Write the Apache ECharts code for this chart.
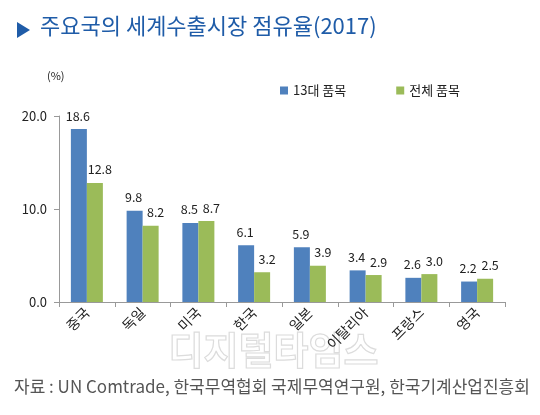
<!DOCTYPE html>
<html><head><meta charset="utf-8">
<script src="https://cdn.jsdelivr.net/npm/echarts@6/dist/echarts.min.js"></script>
<style>html,body{margin:0;padding:0;background:#fff}#c{width:540px;height:415px}</style>
</head><body><div id="c"></div>
<script>
const categories = ['중국','독일','미국','한국','일본','이탈리아','프랑스','영국'];
const items13 = [18.6, 9.8, 8.5, 6.1, 5.9, 3.4, 2.6, 2.2];
const itemsAll = [12.8, 8.2, 8.7, 3.2, 3.9, 2.9, 3.0, 2.5];
const seriesNames = ['13대 품목', '전체 품목'];
const yTicks = [0, 10, 20];
const F = '"Noto Sans CJK KR", "Noto Sans", sans-serif';

const chart = echarts.init(document.getElementById('c'), null, {renderer: 'canvas'});
const lbl = (dx) => ({show: true, position: 'top', distance: 7, offset: [dx, 0], color: '#222', fontSize: 12.5, fontFamily: F, formatter: p => p.value.toFixed(1)});
chart.setOption({
  animation: false,
  textStyle: {fontFamily: F},
  graphic: [
    {type: 'polygon', shape: {points: [[17,22],[30,30],[17,38]]}, style: {fill: '#1f5ca8'}},
    {type: 'text', left: 40, top: 15, style: {text: '주요국의 세계수출시장 점유율(2017)', fill: '#1f5ca8', font: '22px ' + F}},
    {type: 'text', left: 47, top: 70, style: {text: '(%)', fill: '#222', font: '11px ' + F}},
    {type: 'text', left: 168, top: 330, style: {text: '디지털타임스', fill: 'rgba(255,255,255,0)', stroke: '#dcdcdc', lineWidth: 1.2, font: 'bold 38px ' + F}},
    {type: 'text', left: 14, top: 378, style: {text: '자료 : UN Comtrade, 한국무역협회 국제무역연구원, 한국기계산업진흥회', fill: '#555', font: '17px ' + F}}
  ],
  legend: {
    data: seriesNames, top: 79, left: 275, itemGap: 50, itemWidth: 8, itemHeight: 8, icon: 'rect',
    textStyle: {color: '#222', fontSize: 13, fontFamily: F}
  },
  grid: {left: 59, right: 35, top: 116, bottom: 113},
  xAxis: {
    type: 'category', data: categories,
    axisLine: {lineStyle: {color: '#999'}},
    axisTick: {show: true, length: 5, lineStyle: {color: '#999'}},
    axisLabel: {rotate: 45, color: '#222', fontSize: 14, fontFamily: F, margin: 8}
  },
  yAxis: {
    type: 'value', min: 0, max: 20, interval: 10,
    splitLine: {show: false},
    axisLine: {show: true, lineStyle: {color: '#999'}},
    axisTick: {show: true, length: 5, lineStyle: {color: '#999'}},
    axisLabel: {color: '#222', fontSize: 13, fontFamily: F, margin: 12, formatter: v => yTicks.includes(v) ? v.toFixed(1) : ''}
  },
  series: [
    {name: seriesNames[0], type: 'bar', data: items13, barWidth: 16, barGap: '0%', itemStyle: {color: '#4f81bd'}, label: lbl(-1)},
    {name: seriesNames[1], type: 'bar', data: itemsAll, barWidth: 16, itemStyle: {color: '#9bbb59'}, label: lbl(5)}
  ]
});
</script></body></html>
